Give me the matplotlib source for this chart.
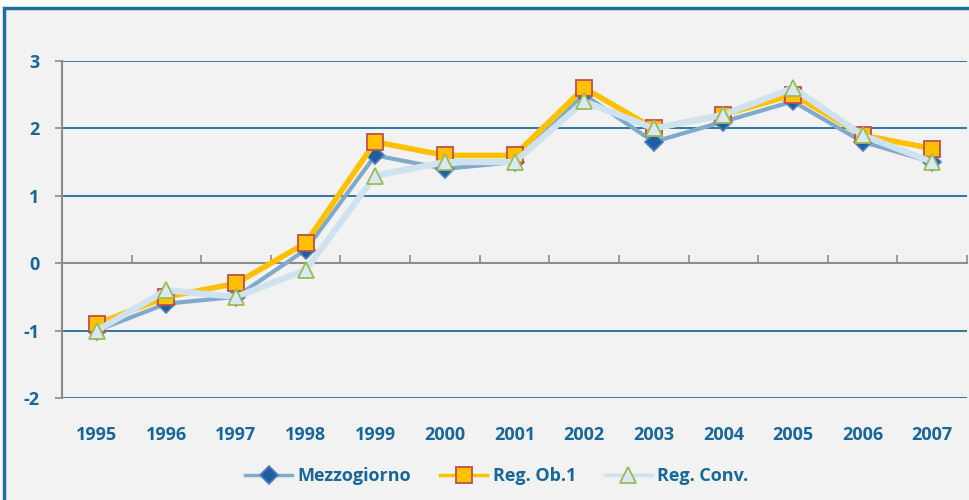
import matplotlib
matplotlib.use("Agg")
import matplotlib.pyplot as plt
from matplotlib.patches import Rectangle
from matplotlib.ticker import FixedLocator

years = ["1995", "1996", "1997", "1998", "1999", "2000", "2001",
         "2002", "2003", "2004", "2005", "2006", "2007"]
mezzogiorno = [-1.0, -0.6, -0.5, 0.2, 1.6, 1.4, 1.5, 2.5, 1.8, 2.1, 2.4, 1.8, 1.5]
reg_ob1 = [-0.9, -0.5, -0.3, 0.3, 1.8, 1.6, 1.6, 2.6, 2.0, 2.2, 2.5, 1.9, 1.7]
reg_conv = [-1.0, -0.4, -0.5, -0.1, 1.3, 1.5, 1.5, 2.4, 2.0, 2.2, 2.6, 1.9, 1.5]
y_ticks = [-2, -1, 0, 1, 2, 3]

W, H = 969, 500
TXT = "#17679a"
GRID = "#1f6f9a"
FONT = ['Open Sans', 'DejaVu Sans']
FS = 13
plt.rcParams['font.family'] = FONT

fig = plt.figure(figsize=(W / 100, H / 100), dpi=100, facecolor="white")
fig.patches.append(Rectangle((4 / W, -0.2), 1.3, 1.2 - 8 / H,
                             transform=fig.transFigure, facecolor="#f2f2f2",
                             edgecolor="#1f6f9a", linewidth=2.5, zorder=-10))

ax = fig.add_axes([62 / W, (H - 398) / H, (967 - 62) / W, (398 - 61) / H])
ax.set_facecolor("none")
x = list(range(len(years)))

ax.plot(x, mezzogiorno, color="#7faacb", lw=3.0, marker="D", ms=9,
        markerfacecolor="#1f5f9f", markeredgecolor="#4f81bd", markeredgewidth=1.2,
        label="Mezzogiorno", zorder=3)
ax.plot(x, reg_ob1, color="#ffc000", lw=4.0, marker="s", ms=11,
        markerfacecolor="#ffc000", markeredgecolor="#c0504d", markeredgewidth=1.3,
        label="Reg. Ob.1", zorder=4)
ax.plot(x, reg_conv, color="#cfe2ef", lw=4.5, marker="^", ms=12,
        markerfacecolor="#d9e8f2", markeredgecolor="#9bbb59", markeredgewidth=1.3,
        label="Reg. Conv.", zorder=5)

ax.set_xlim(-0.5, len(years) - 0.5)
ax.set_ylim(-2, 3)

# y axis
ax.set_yticks(y_ticks)
ax.set_yticklabels([str(v) for v in y_ticks], fontsize=FS, fontweight="bold", color=TXT)
ax.tick_params(axis="y", length=5, width=1.2, color="#8c8c8c", pad=11)
ax.spines["left"].set_color("#8c8c8c")
ax.spines["left"].set_linewidth(1.5)
ax.spines["right"].set_visible(False)
ax.spines["top"].set_visible(False)

# gridlines
for v in y_ticks:
    if v != 0:
        ax.axhline(v, color=GRID, lw=1.3, zorder=1)

# category axis at zero
ax.spines["bottom"].set_position(("data", 0))
ax.spines["bottom"].set_color("#8c8c8c")
ax.spines["bottom"].set_linewidth(1.5)
ax.set_xticks(x)
ax.set_xticklabels([])
ax.tick_params(axis="x", which="major", length=0)
ax.xaxis.set_minor_locator(FixedLocator([i + 0.5 for i in x]))
ax.tick_params(axis="x", which="minor", direction="in", length=6, width=1.2, color="#8c8c8c")

sec = ax.secondary_xaxis("bottom")
sec.set_xticks(x)
sec.set_xticklabels(years, fontsize=FS, fontweight="bold", color=TXT)
sec.tick_params(axis="x", length=0, pad=20)
sec.spines["bottom"].set_visible(False)

leg = fig.legend(loc="center", bbox_to_anchor=(497 / W, (H - 476) / H), ncol=3,
                 frameon=False, handlelength=2.6, columnspacing=1.6, handletextpad=0.3,
                 prop={"family": FONT, "weight": "bold", "size": FS})
for t in leg.get_texts():
    t.set_color(TXT)
for h in leg.get_lines():
    h.set_linewidth(2.5)

fig.savefig("out.png", dpi=100, facecolor=fig.get_facecolor())
